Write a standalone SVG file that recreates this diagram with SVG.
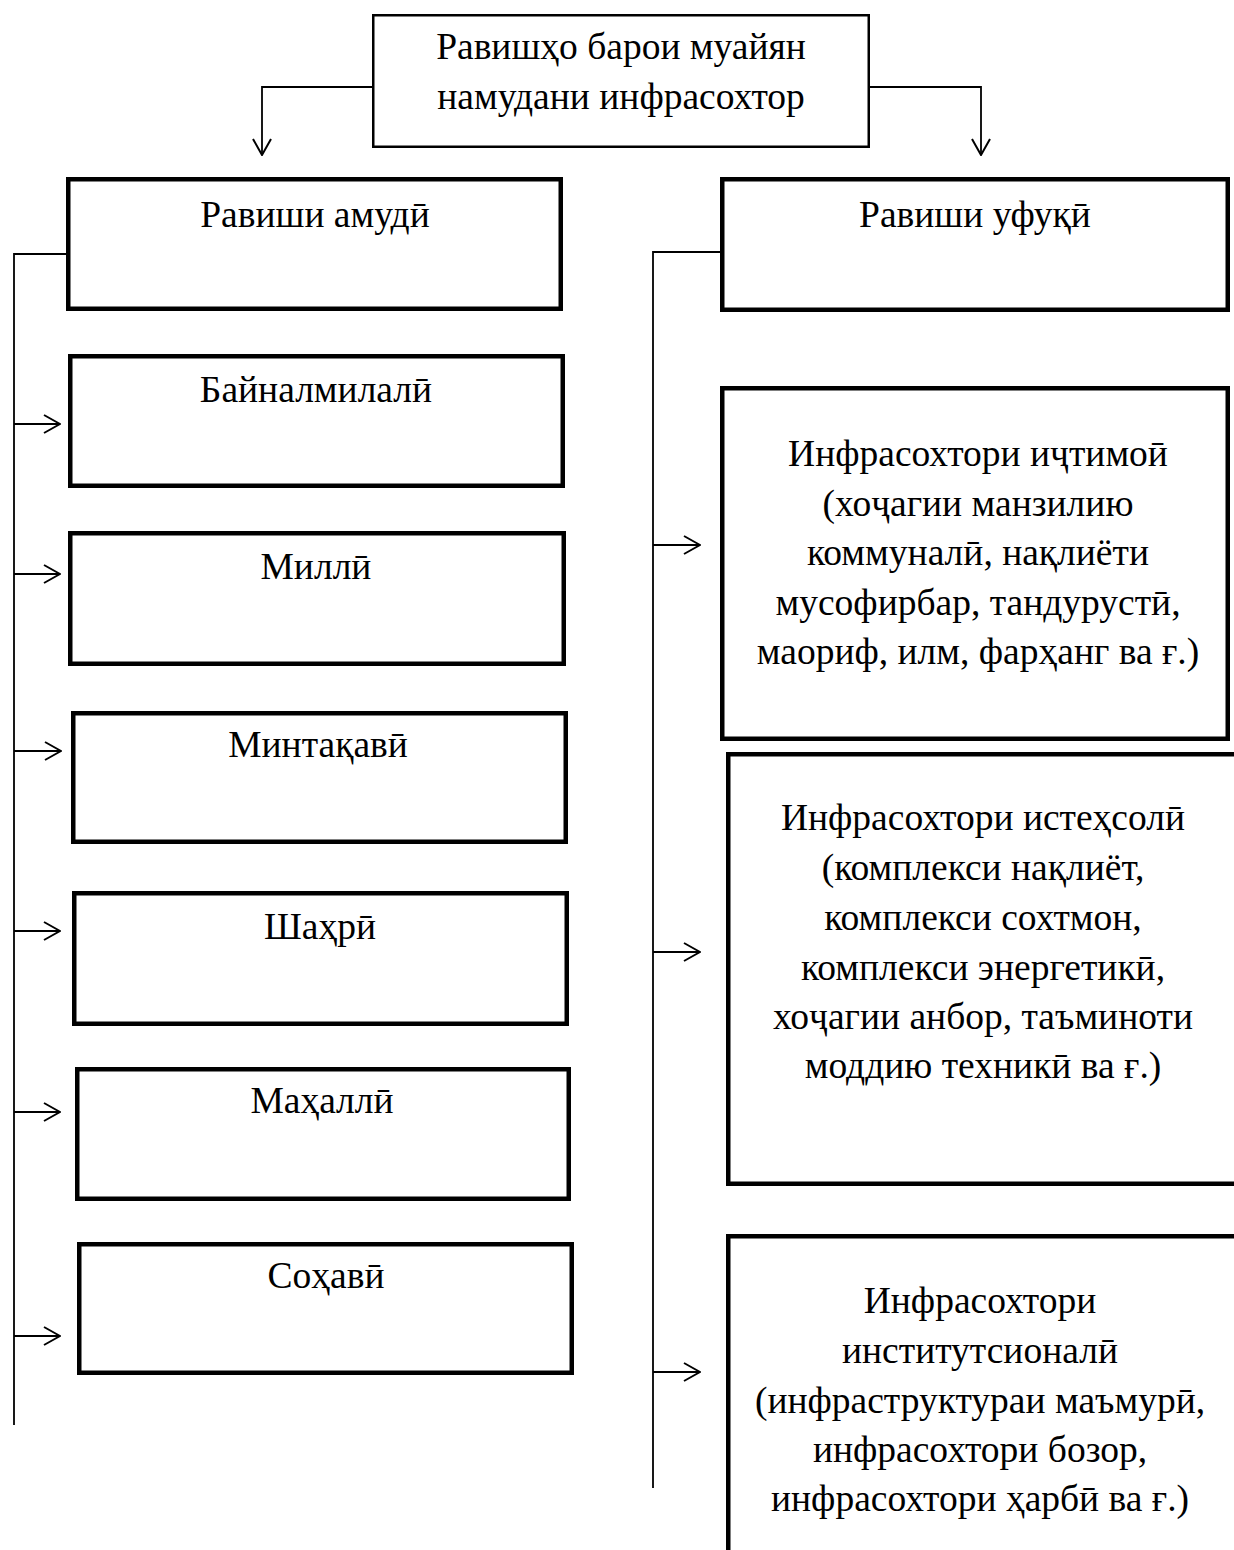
<svg xmlns="http://www.w3.org/2000/svg" width="1234" height="1550" viewBox="0 0 1234 1550">
<style>
text{font-family:"Liberation Serif","Times New Roman",serif;font-size:37.5px;fill:#000;text-anchor:middle}
.box{fill:#fff;stroke:#000;stroke-width:4.5}
.top{fill:#fff;stroke:#000;stroke-width:2.5}
.open{fill:none;stroke:#000;stroke-width:4.5}
.ln{fill:none;stroke:#000;stroke-width:1.8}
.arr{fill:none;stroke:#000;stroke-width:1.8;marker-end:url(#ah)}
</style>
<defs>
<marker id="ah" viewBox="0 0 18 20" refX="17" refY="10" markerWidth="18" markerHeight="20" markerUnits="userSpaceOnUse" orient="auto">
<path d="M1,1 L17,10 L1,19" fill="none" stroke="#000" stroke-width="2"/>
</marker>
</defs>
<rect width="1234" height="1550" fill="#fff"/>
<g id="connectors">
<path class="arr" d="M372,87 H262 V155"/>
<path class="arr" d="M870,87 H981 V155"/>
<path class="ln" d="M66,254 H14 V1425"/>
<path class="arr" d="M14,424 H60"/>
<path class="arr" d="M14,574 H60"/>
<path class="arr" d="M14,751 H61"/>
<path class="arr" d="M14,931 H60"/>
<path class="arr" d="M14,1112 H60"/>
<path class="arr" d="M14,1336 H60"/>
<path class="ln" d="M720,252 H653 V1488"/>
<path class="arr" d="M653,545 H700"/>
<path class="arr" d="M653,952 H700"/>
<path class="arr" d="M653,1372 H700"/>
</g>
<g id="root">
<rect class="top" x="373.25" y="15.25" width="495.5" height="131.5"/>
<text x="621" y="59">Равишҳо барои муайян</text>
<text x="621" y="109">намудани инфрасохтор</text>
</g>
<g id="amudi">
<rect class="box" x="68.25" y="179.25" width="492.5" height="129.5"/>
<text x="315" y="227">Равиши амудӣ</text>
</g>
<g id="baynalmilali">
<rect class="box" x="70.25" y="356.25" width="492.5" height="129.5"/>
<text x="316" y="402">Байналмилалӣ</text>
</g>
<g id="milli">
<rect class="box" x="70.25" y="533.25" width="493.5" height="130.5"/>
<text x="316" y="579">Миллӣ</text>
</g>
<g id="mintaqavi">
<rect class="box" x="73.25" y="713.25" width="492.5" height="128.5"/>
<text x="318" y="757">Минтақавӣ</text>
</g>
<g id="shahri">
<rect class="box" x="74.25" y="893.25" width="492.5" height="130.5"/>
<text x="320" y="939">Шаҳрӣ</text>
</g>
<g id="mahalli">
<rect class="box" x="77.25" y="1069.25" width="491.5" height="129.5"/>
<text x="322" y="1113">Маҳаллӣ</text>
</g>
<g id="sohavi">
<rect class="box" x="79.25" y="1244.25" width="492.5" height="128.5"/>
<text x="326" y="1288">Соҳавӣ</text>
</g>
<g id="ufuqi">
<rect class="box" x="722.25" y="179.25" width="505.5" height="130.5"/>
<text x="975" y="227">Равиши уфуқӣ</text>
</g>
<g id="ijtimoi">
<rect class="box" x="722.25" y="388.25" width="505.5" height="350.5"/>
<text x="978" y="466">Инфрасохтори иҷтимоӣ</text>
<text x="978" y="516">(хоҷагии манзилию</text>
<text x="978" y="565">коммуналӣ, нақлиёти</text>
<text x="978" y="615">мусофирбар, тандурустӣ,</text>
<text x="978" y="664">маориф, илм, фарҳанг ва ғ.)</text>
</g>
<g id="istehsoli">
<path class="open" d="M1234,754.25 H728.25 V1183.75 H1234"/>
<text x="983" y="830">Инфрасохтори истеҳсолӣ</text>
<text x="983" y="880">(комплекси нақлиёт,</text>
<text x="983" y="930">комплекси сохтмон,</text>
<text x="983" y="980">комплекси энергетикӣ,</text>
<text x="983" y="1029">хоҷагии анбор, таъминоти</text>
<text x="983" y="1078">моддию техникӣ ва ғ.)</text>
</g>
<g id="institutsionali">
<path class="open" d="M1234,1236.25 H728.25 V1550"/>
<text x="980" y="1313">Инфрасохтори</text>
<text x="980" y="1363">институтсионалӣ</text>
<text x="980" y="1413">(инфраструктураи маъмурӣ,</text>
<text x="980" y="1462">инфрасохтори бозор,</text>
<text x="980" y="1511">инфрасохтори ҳарбӣ ва ғ.)</text>
</g>
</svg>
